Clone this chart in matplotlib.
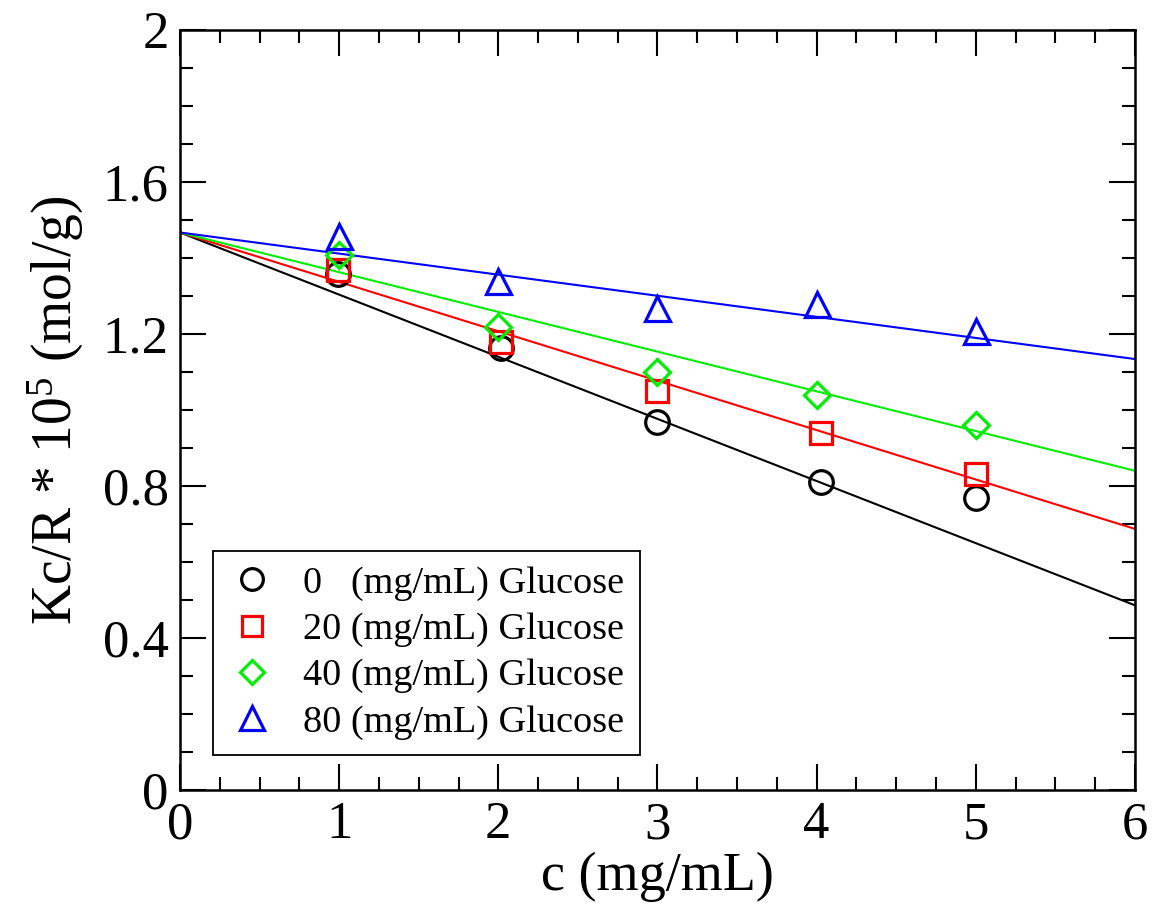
import numpy as np
import matplotlib.pyplot as plt
from matplotlib.ticker import MultipleLocator

plt.rcParams['font.family'] = ['Liberation Serif', 'DejaVu Serif']
plt.rcParams['mathtext.default'] = 'regular'

# measured points (c in mg/mL, Kc/R * 10^5 in mol/g)
c_0 = [0.99, 2.02, 3.0, 4.03, 5.0]
kc_0 = [1.358, 1.162, 0.969, 0.810, 0.768]
c_20 = [0.99, 2.02, 3.0, 4.03, 5.0]
kc_20 = [1.368, 1.180, 1.050, 0.939, 0.831]
c_40 = [1.0, 2.0, 3.0, 4.0, 5.0]
kc_40 = [1.408, 1.219, 1.100, 1.039, 0.960]
c_80 = [1.0, 2.0, 3.0, 4.0, 5.0]
kc_80 = [1.459, 1.339, 1.267, 1.280, 1.208]

# linear fits: common intercept, one slope per glucose level
intercept = 1.467
slopes = [-0.1635, -0.130, -0.1045, -0.0555]

labels = ["0   (mg/mL) Glucose", "20 (mg/mL) Glucose",
          "40 (mg/mL) Glucose", "80 (mg/mL) Glucose"]
colors = ["black", "#ff0000", "#00ee00", "#0000ff"]
markers = ["o", "s", "D", "^"]
sizes = [17, 16, 13, 18]

fig = plt.figure(figsize=(11.55, 9.07), dpi=100)
ax = fig.add_axes([0.1558, 0.129, 0.8269, 0.838])

xs = [c_0, c_20, c_40, c_80]
ys = [kc_0, kc_20, kc_40, kc_80]
xfit = np.array([0, 6])
for i in range(4):
    ax.plot(xfit, intercept + slopes[i] * xfit, color=colors[i], lw=1.5, zorder=2)
for i in range(4):
    ax.plot(xs[i], ys[i], linestyle="none", marker=markers[i], ms=sizes[i],
            mfc="none", mec=colors[i], mew=2.3, label=labels[i], zorder=3)

ax.set_xlim(0, 6)
ax.set_ylim(0, 2)
ax.xaxis.set_major_locator(MultipleLocator(1))
ax.xaxis.set_minor_locator(MultipleLocator(0.25))
ax.yaxis.set_major_locator(MultipleLocator(0.4))
ax.yaxis.set_minor_locator(MultipleLocator(0.1))
ax.set_yticks([0, 0.4, 0.8, 1.2, 1.6, 2])
ax.set_yticklabels(["0", "0.4", "0.8", "1.2", "1.6", "2"])
ax.tick_params(which="both", direction="in", top=True, right=True,
               labelsize=38, width=1.5, pad=8)
ax.tick_params(which="major", length=19)
ax.tick_params(which="minor", length=9.5)
for s in ax.spines.values():
    s.set_linewidth(1.8)

ax.set_xlabel("c (mg/mL)", fontsize=39, labelpad=2)
ax.set_ylabel("Kc/R * 10$^{5}$ (mol/g)", fontsize=40, labelpad=12)

leg = ax.legend(loc="lower left", bbox_to_anchor=(0.035, 0.046), borderaxespad=0,
                fontsize=27.5, frameon=True, fancybox=False, edgecolor="black",
                framealpha=1, handletextpad=0.75, borderpad=0.4, labelspacing=0.3,
                markerscale=0.92, handlelength=1.2)
leg.get_frame().set_linewidth(1.3)

plt.savefig("out.png", dpi=100)
